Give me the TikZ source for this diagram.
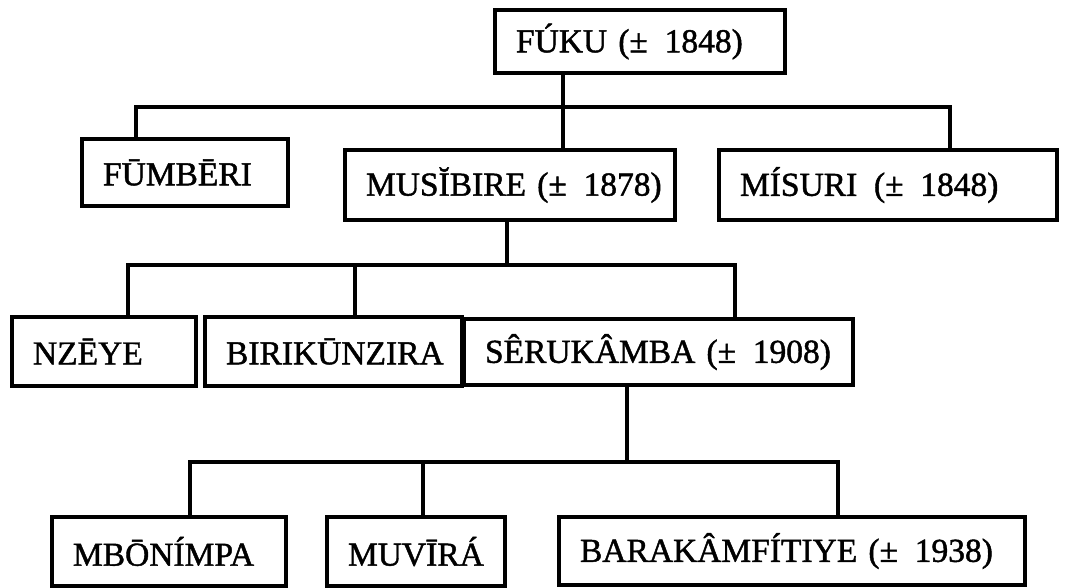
\documentclass[tikz,border=0pt]{standalone}
\usepackage{fontspec}
\setmainfont{Liberation Serif}[FakeBold=1.3]
\begin{document}
\begin{tikzpicture}[x=1pt,y=-1pt]
  \useasboundingbox (0,0) rectangle (1076,588);
  \begin{scope}[every node/.style={draw=black,line width=3.5pt,inner xsep=21pt,inner ysep=0pt,
      align=left,font=\fontsize{33.5}{38}\selectfont}]
    \node[minimum height=63pt,text width=248pt] (fuku) at (640,41.5) {FÚKU~(±\enspace1848)};
    \node[minimum height=67pt,text width=164pt] (fumberi) at (185,172.5) {FŪMBĒRI};
    \node[minimum height=70pt,text width=288pt] (musibire) at (510,185) {MUSĬBIRE~(±\enspace1878)};
    \node[minimum height=70pt,text width=296pt] (misuri) at (888,185) {MÍSURI~\,(±\enspace1848)};
    \node[minimum height=69pt,text width=142pt] (nzeye) at (104,351.5) {NZĒYE};
    \node[minimum height=69pt,text width=215pt] (birikunzira) at (333.5,351.5) {BIRIKŪNZIRA};
    \node[minimum height=66pt,text width=347pt] (serukamba) at (658.5,352) {SÊRUKÂMBA~(±\enspace1908)};
    \node[minimum height=69pt,text width=192pt] (mbonimpa) at (169,551.5) {MBŌNÍMPA};
    \node[minimum height=69pt,text width=136pt] (muvira) at (416,551.5) {MUVĪRÁ};
    \node[minimum height=68pt,text width=424pt] (barakamfitiye) at (792,551) {BARAKÂMFÍTIYE~(±\enspace1938)};
  \end{scope}
  % branch points
  \coordinate (j0) at (136,107);
  \coordinate (j1) at (563,107);
  \coordinate (j2) at (950,107);
  \coordinate (k0) at (128,265);
  \coordinate (k1) at (355,265);
  \coordinate (km) at (507,265);
  \coordinate (k2) at (735,265);
  \coordinate (m0) at (190,462);
  \coordinate (m1) at (423,462);
  \coordinate (mm) at (627,462);
  \coordinate (m2) at (838,462);
  \begin{scope}[every edge/.style={draw=black,line width=3.5pt,line cap=rect}]
    \path (fuku.south -| j1) edge (musibire.north -| j1);
    \path (j0) edge (j2);
    \path (j0) edge (fumberi.north -| j0);
    \path (j2) edge (misuri.north -| j2);
    \path (musibire.south -| km) edge (km);
    \path (k0) edge (k2);
    \path (k0) edge (nzeye.north -| k0);
    \path (k1) edge (birikunzira.north -| k1);
    \path (k2) edge (serukamba.north -| k2);
    \path (serukamba.south -| mm) edge (mm);
    \path (m0) edge (m2);
    \path (m0) edge (mbonimpa.north -| m0);
    \path (m1) edge (muvira.north -| m1);
    \path (m2) edge (barakamfitiye.north -| m2);
  \end{scope}
\end{tikzpicture}
\end{document}
